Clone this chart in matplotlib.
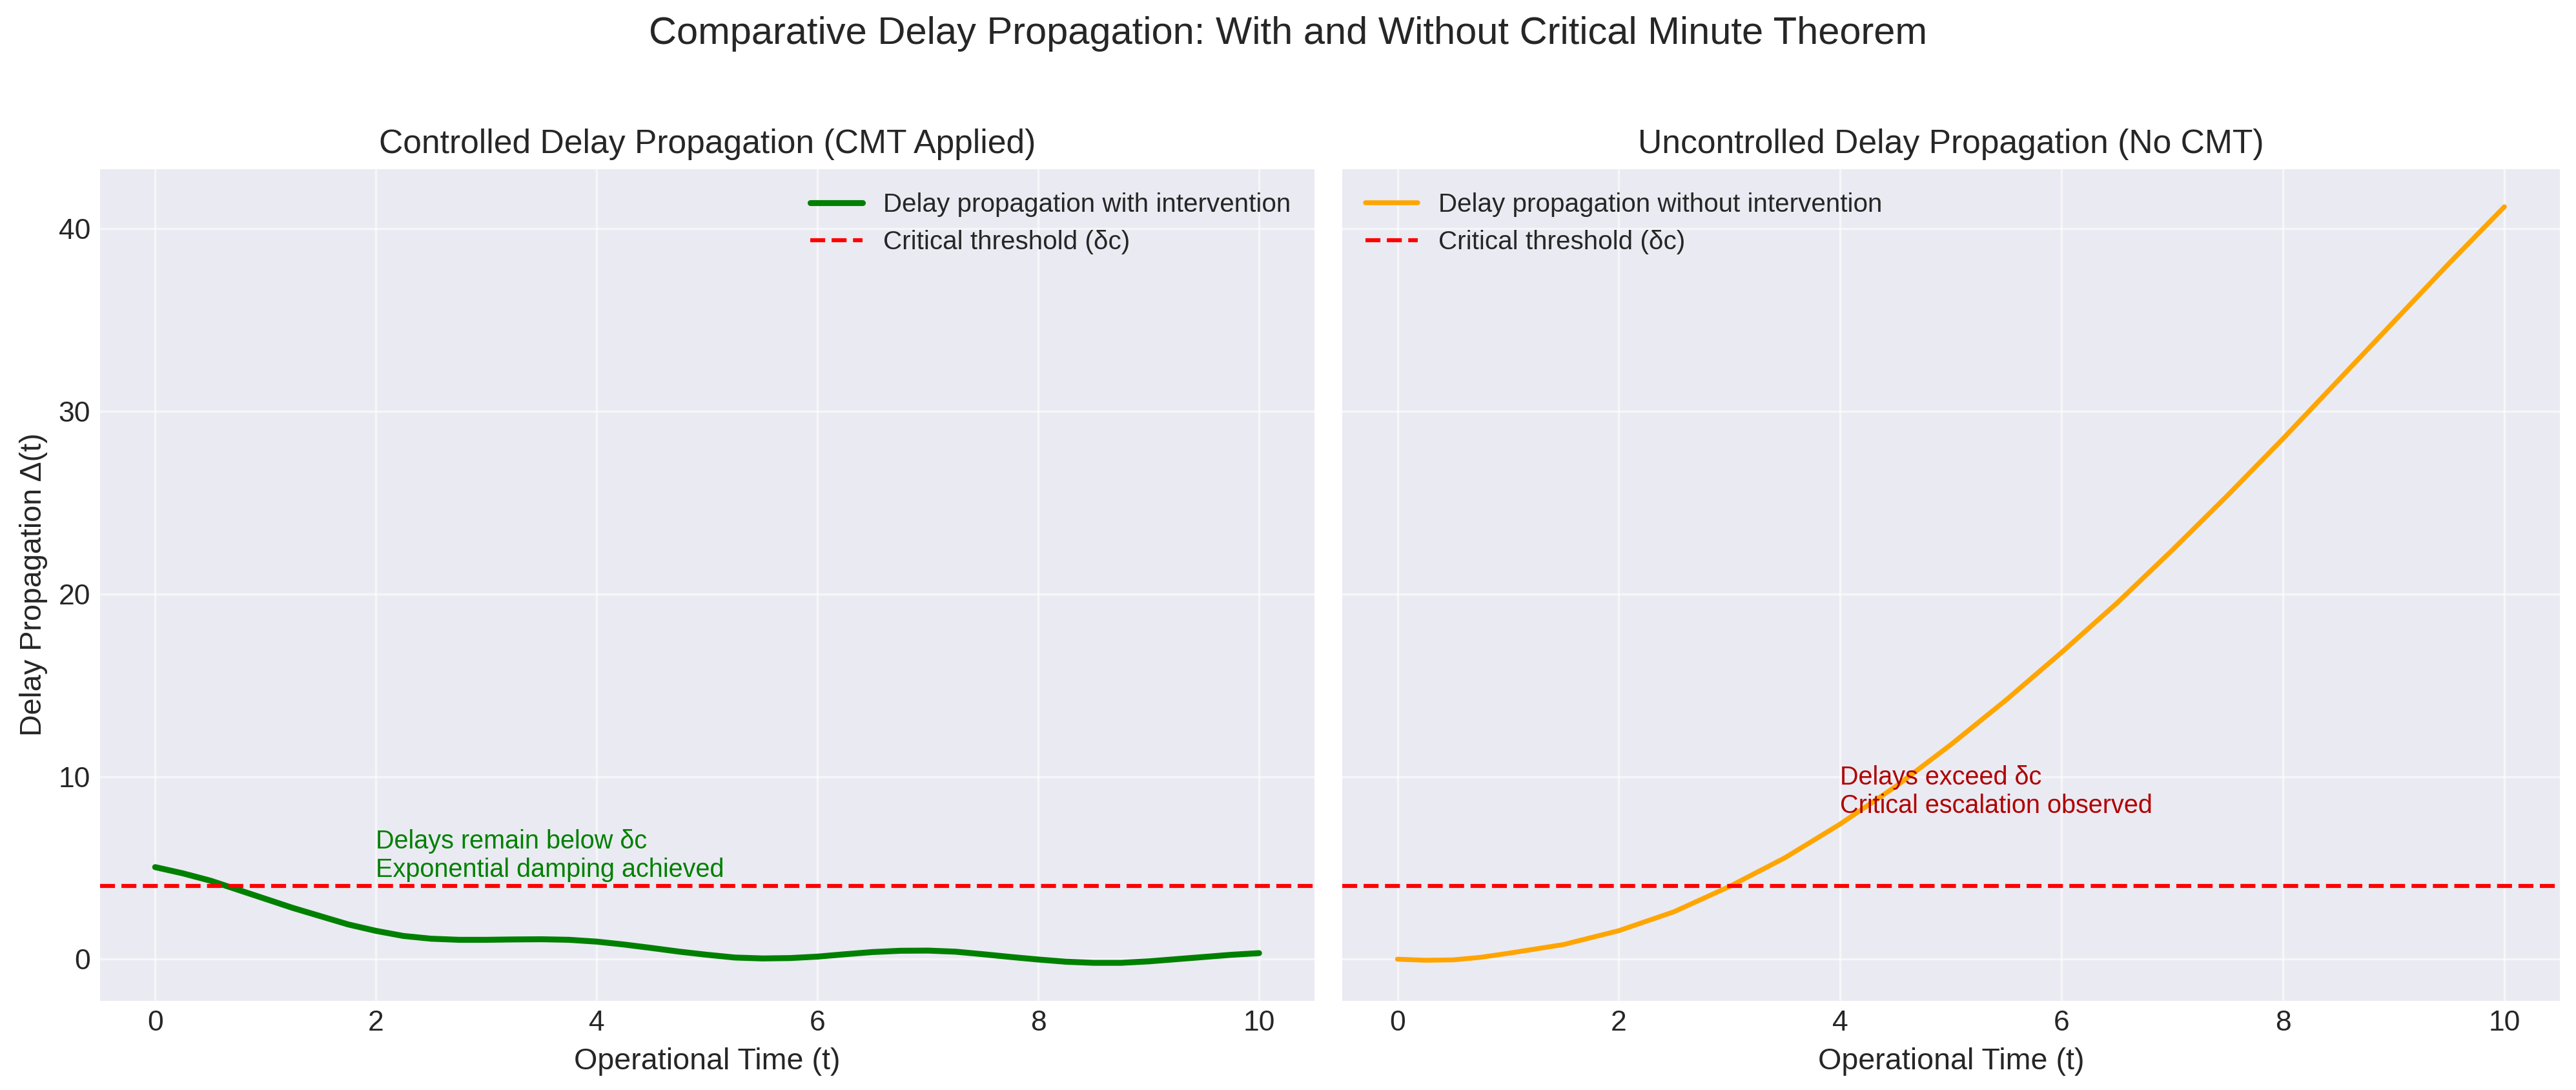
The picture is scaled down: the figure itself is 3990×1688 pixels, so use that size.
import matplotlib
matplotlib.use('Agg')
import matplotlib.pyplot as plt

# operational time samples
t_ctrl = [0, 0.25, 0.5, 0.75, 1, 1.25, 1.5, 1.75, 2, 2.25, 2.5, 2.75, 3, 3.25, 3.5, 3.75,
          4, 4.25, 4.5, 4.75, 5, 5.25, 5.5, 5.75, 6, 6.25, 6.5, 6.75, 7, 7.25, 7.5, 7.75,
          8, 8.25, 8.5, 8.75, 9, 9.25, 9.5, 9.75, 10]
delay_ctrl = [5.04, 4.7, 4.3, 3.8, 3.3, 2.8, 2.35, 1.9, 1.55, 1.27, 1.12, 1.06, 1.06, 1.08, 1.09, 1.06,
              0.96, 0.8, 0.61, 0.41, 0.24, 0.09, 0.04, 0.06, 0.14, 0.27, 0.39, 0.46, 0.47, 0.41, 0.27, 0.12,
              -0.02, -0.14, -0.2, -0.2, -0.12, 0.0, 0.12, 0.24, 0.33]

t_unctrl = [0, 0.25, 0.5, 0.75, 1, 1.5, 2, 2.5, 3, 3.5, 4, 4.5, 5, 5.5, 6, 6.5, 7, 7.5, 8, 8.5, 9, 9.5, 10]
delay_unctrl = [0.0, -0.06, -0.04, 0.1, 0.32, 0.8, 1.56, 2.6, 3.98, 5.55, 7.4, 9.45, 11.75, 14.2, 16.8,
                19.5, 22.4, 25.4, 28.5, 31.7, 34.9, 38.1, 41.2]

threshold = 4

plt.style.use('seaborn-v0_8-darkgrid')
plt.rcParams['font.family'] = ['Liberation Sans', 'DejaVu Sans']

fig = plt.figure(figsize=(13.3, 5.6267), dpi=300)
ax1 = fig.add_axes([0.0388, 0.082, 0.4714, 0.763])
ax2 = fig.add_axes([0.521, 0.082, 0.4727, 0.763], sharey=ax1)

# controlled
ax1.plot(t_ctrl, delay_ctrl, color='green', lw=2.2, label='Delay propagation with intervention')
ax1.axhline(threshold, color='red', linestyle='--', lw=1.5, label='Critical threshold (δc)')
ax1.text(2, 4.5, 'Delays remain below δc\nExponential damping achieved', color='green', fontsize=9.5)
ax1.set_title('Controlled Delay Propagation (CMT Applied)', fontsize=12.4)
ax1.set_xlabel('Operational Time (t)', fontsize=11.2)
ax1.set_ylabel('Delay Propagation Δ(t)', fontsize=11.2)
ax1.legend(loc='upper right', fontsize=9.7)

# uncontrolled
ax2.plot(t_unctrl, delay_unctrl, color='orange', lw=1.8, label='Delay propagation without intervention')
ax2.axhline(threshold, color='red', linestyle='--', lw=1.5, label='Critical threshold (δc)')
ax2.text(4, 8, 'Delays exceed δc\nCritical escalation observed', color='#b00000', fontsize=9.5)
ax2.set_title('Uncontrolled Delay Propagation (No CMT)', fontsize=12.4)
ax2.set_xlabel('Operational Time (t)', fontsize=11.2)
ax2.legend(loc='upper left', fontsize=9.7)
plt.setp(ax2.get_yticklabels(), visible=False)

for ax in (ax1, ax2):
    ax.tick_params(labelsize=10.7)
    ax.grid(True, alpha=0.6)

fig.suptitle('Comparative Delay Propagation: With and Without Critical Minute Theorem', fontsize=14.3, y=0.985)

fig.savefig('out.png', dpi=300)
